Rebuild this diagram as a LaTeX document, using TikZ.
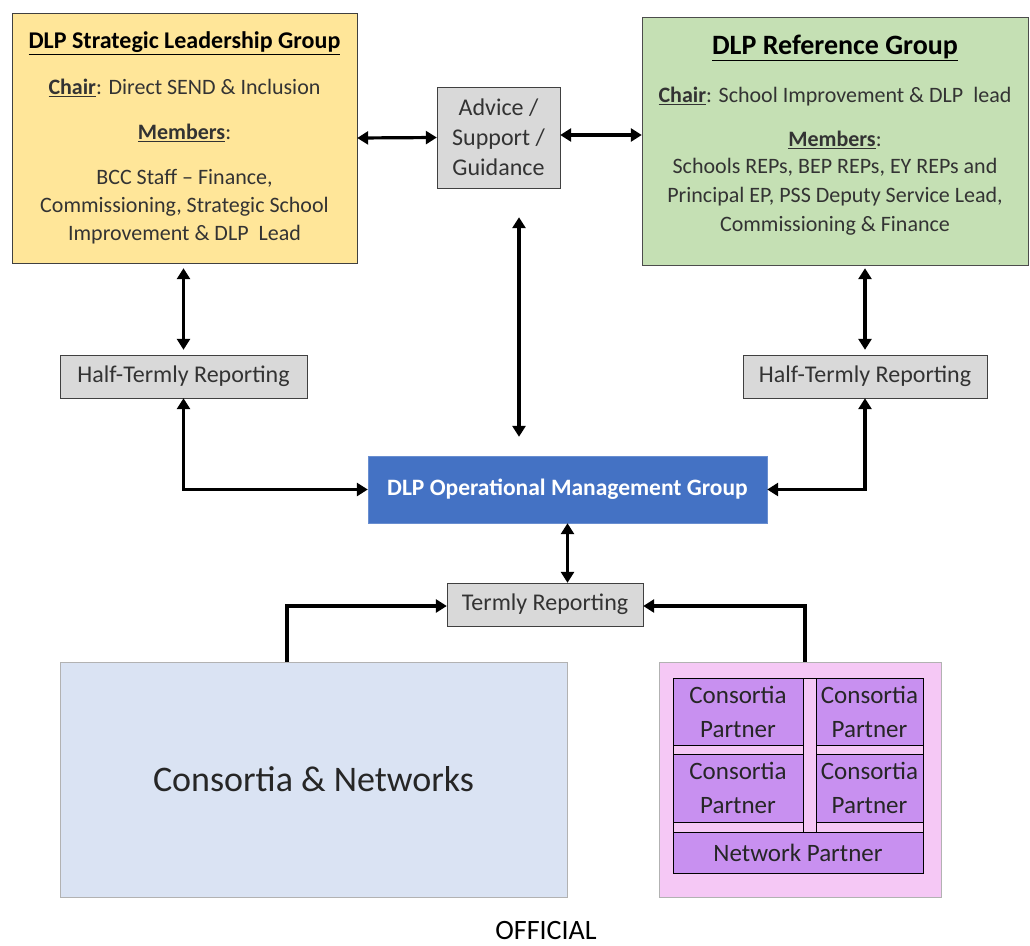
\documentclass[tikz,border=0pt]{standalone}
\usepackage{fontspec}
\setmainfont{Carlito}
\usetikzlibrary{arrows.meta}

\definecolor{slgyellow}{HTML}{FFE699}
\definecolor{refgreen}{HTML}{C5E0B4}
\definecolor{boxgrey}{HTML}{D9D9D9}
\definecolor{omgblue}{HTML}{4472C4}
\definecolor{cnblue}{HTML}{DAE3F3}
\definecolor{partnerpink}{HTML}{F5C8F5}
\definecolor{partnerpurple}{HTML}{C890F0}

\begin{document}
\begin{tikzpicture}[x=1pt, y=-1pt,
    box/.style={draw=black!75, rectangle, inner sep=0pt, align=center, text=black!80, font=\fontsize{22}{28}\selectfont},
    greybox/.style={box, fill=boxgrey, font=\fontsize{24}{30}\selectfont},
    cellbox/.style={box, draw=black, fill=partnerpurple, text=black!85, font=\fontsize{25}{28}\selectfont},
    stripbox/.style={draw=black, line width=0.6pt, fill=partnerpink},
    biarrow/.style={{Triangle[length=11pt,width=13pt]}-{Triangle[length=11pt,width=13pt]}, line width=3.2pt},
    onearrow/.style={-{Triangle[length=11pt,width=13pt]}, line width=3.2pt}]
    \useasboundingbox (0,0) rectangle (1030,945);

    % Nodes
    \node[box, fill=slgyellow, minimum width=345pt, minimum height=250pt] (slg) at (184.5,138) {%
        \textcolor{black}{\fontsize{24}{28}\selectfont\underline{\textbf{DLP Strategic Leadership Group}}}\\[18pt]
        \underline{\textbf{Chair}}: Direct SEND \& Inclusion\\[17pt]
        \underline{\textbf{Members}}:\\[17pt]
        BCC Staff -- Finance,\\ Commissioning, Strategic School\\ Improvement \& DLP\ \ Lead};
    \node[box, fill=refgreen, draw=black!70, minimum width=386pt, minimum height=248pt] (ref) at (835,141) {%
        \textcolor{black}{\fontsize{28}{28}\selectfont\underline{\textbf{DLP Reference Group}}}\\[20pt]
        \underline{\textbf{Chair}}: School Improvement \& DLP\ \ lead\\[16pt]
        \underline{\textbf{Members}}:\\[-1pt]
        Schools REPs, BEP REPs, EY REPs and\\[1pt] Principal EP, PSS Deputy Service Lead,\\[1pt] Commissioning \& Finance\\[-13pt]\mbox{}};
    \node[greybox, minimum width=123pt, minimum height=101pt] (advice) at (498.5,137.5) {Advice /\\ Support /\\ Guidance};
    \node[greybox, minimum width=247pt, minimum height=43pt] (halfL) at (183.5,376.5) {Half-Termly Reporting};
    \node[greybox, minimum width=244pt, minimum height=43pt] (halfR) at (865,376.5) {Half-Termly Reporting};
    \node[box, fill=omgblue, draw=omgblue!80!white, text=white, minimum width=399pt, minimum height=67pt, font=\fontsize{23.5}{28}\selectfont\bfseries] (omg) at (567.5,489.5) {DLP Operational Management Group};
    \node[greybox, minimum width=196pt, minimum height=43pt] (termly) at (545,604.5) {Termly Reporting};
    \node[box, fill=cnblue, draw=black!30, text=black!85, minimum width=507pt, minimum height=235pt, font=\fontsize{36}{40}\selectfont] (cn) at (313.5,779.5) {Consortia \& Networks};
    \node[box, fill=partnerpink, draw=black!30, minimum width=282pt, minimum height=235pt] (pink) at (800,779.5) {};

    % Partner grid
    \draw[stripbox] (673,745) rectangle (923,754);
    \draw[stripbox] (673,822) rectangle (923,832);
    \draw[stripbox] (803,678) rectangle (816,832);
    \node[cellbox, minimum width=130pt, minimum height=67pt] (cp1) at (738,711.5) {Consortia\\[6pt] Partner};
    \node[cellbox, minimum width=107pt, minimum height=67pt] (cp2) at (869.5,711.5) {Consortia\\[6pt] Partner};
    \node[cellbox, minimum width=130pt, minimum height=68pt] (cp3) at (738,788) {Consortia\\[6pt] Partner};
    \node[cellbox, minimum width=107pt, minimum height=68pt] (cp4) at (869.5,788) {Consortia\\[6pt] Partner};
    \node[cellbox, minimum width=250pt, minimum height=41pt] (np) at (798,852.5) {Network Partner};

    \node[font=\fontsize{28}{30}\selectfont] (official) at (546,930) {OFFICIAL};

    % Arrows
    \draw[biarrow] (slg.east) -- (advice.west);
    \draw[biarrow] ([yshift=2.5pt]advice.east) -- ([yshift=2.5pt]advice.east -| ref.west);
    \draw[biarrow, shorten <=29pt, shorten >=19pt] ([xshift=20.5pt]advice.south) -- ([xshift=20.5pt]advice.south |- omg.north);
    \draw[biarrow, shorten <=5pt, shorten >=5pt] (slg.south -| halfL.north) -- (halfL.north);
    \draw[biarrow, shorten <=3pt, shorten >=5pt] (ref.south -| halfR.north) -- (halfR.north);
    \draw[biarrow] (halfL.south) |- (omg.west);
    \draw[biarrow] (omg.east) -| (halfR.south);
    \draw[biarrow] (omg.south) -- (omg.south |- termly.north);
    \draw[onearrow] ([xshift=-26.5pt]cn.north) |- ([yshift=-1.5pt]termly.west);
    \draw[onearrow] ([xshift=5pt]pink.north) |- ([yshift=-1.5pt]termly.east);
\end{tikzpicture}
\end{document}
